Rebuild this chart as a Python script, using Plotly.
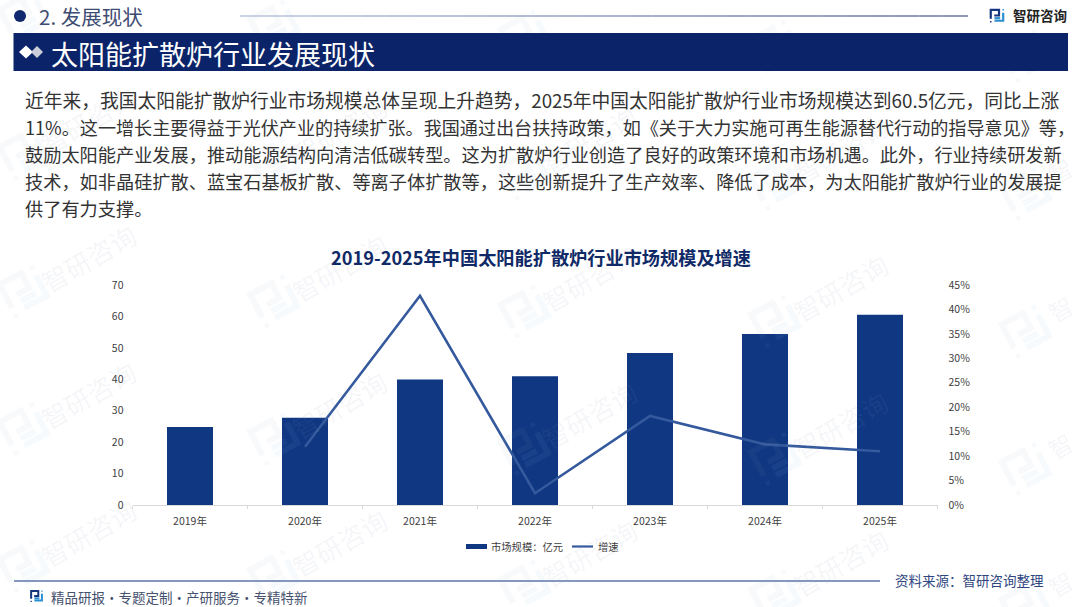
import math
import plotly.graph_objects as go

W, H = 1080, 607
CJK = "Noto Sans CJK SC"

years = ["2019年", "2020年", "2021年", "2022年", "2023年", "2024年", "2025年"]
market_size = [24.8, 27.8, 39.9, 41.0, 48.4, 54.4, 60.5]
growth_rate = [None, 0.119, 0.428, 0.024, 0.182, 0.124, 0.11]

section_label = "2. 发展现状"
banner_title = "太阳能扩散炉行业发展现状"
body_lines = [
    "近年来，我国太阳能扩散炉行业市场规模总体呈现上升趋势，2025年中国太阳能扩散炉行业市场规模达到60.5亿元，同比上涨",
    "11%。这一增长主要得益于光伏产业的持续扩张。我国通过出台扶持政策，如《关于大力实施可再生能源替代行动的指导意见》等，",
    "鼓励太阳能产业发展，推动能源结构向清洁低碳转型。这为扩散炉行业创造了良好的政策环境和市场机遇。此外，行业持续研发新",
    "技术，如非晶硅扩散、蓝宝石基板扩散、等离子体扩散等，这些创新提升了生产效率、降低了成本，为太阳能扩散炉行业的发展提",
    "供了有力支撑。",
]
chart_title = "2019-2025年中国太阳能扩散炉行业市场规模及增速"
bar_name = "市场规模：亿元"
line_name = "增速"
brand = "智研咨询"
footer_left = "精品研报·专题定制·产研服务·专精特新"
footer_right = "资料来源：智研咨询整理"

NAVY = "#0b2469"
BAR = "#0f3782"
LINE = "#34599c"


def px(x):
    return x / W


def py(y):
    return 1 - y / H


shapes, annotations = [], []


def text(x, y, s, size, color, anchor="left", bold=False, angle=0):
    annotations.append(dict(
        x=px(x), y=py(y), xref="paper", yref="paper", text=f"<b>{s}</b>" if bold else s,
        showarrow=False, xanchor=anchor, yanchor="middle", textangle=angle,
        font=dict(family=CJK, size=size, color=color), borderpad=0, align="left",
    ))


def rect(x0, y0, x1, y1, color):
    shapes.append(dict(type="rect", xref="paper", yref="paper", x0=px(x0), x1=px(x1), y0=py(y0), y1=py(y1),
                       fillcolor=color, line_width=0))


def hline(x0, x1, y, color, width=1.5):
    shapes.append(dict(type="line", xref="paper", yref="paper", x0=px(x0), x1=px(x1), y0=py(y), y1=py(y),
                       line=dict(color=color, width=width)))


def poly(points, color, closed=False, width=0, fill=None):
    d = "M" + " L".join(f"{px(a):.5f},{py(b):.5f}" for a, b in points) + (" Z" if closed else "")
    shapes.append(dict(type="path", xref="paper", yref="paper", path=d, fillcolor=fill,
                       line=dict(color=color, width=width)))


LOGO_DARK = [[(.05, .72), (.05, .12), (.6, .12), (.6, .5), (.28, .5)]]
LOGO_LIGHT = [[(.88, .32), (.88, .85), (.3, .85)], [(.3, .68), (.68, .68)]]
LOGO_DOTS = [(.05, .92, 0), (.88, .12, 1)]


def logo(cx, cy, size, dark, light, width, angle=0):
    a = math.radians(angle)

    def tr(u, v):
        dx, dy = (u - .5) * size, (v - .5) * size
        return cx + dx * math.cos(a) - dy * math.sin(a), cy + dx * math.sin(a) + dy * math.cos(a)

    for seg in LOGO_DARK:
        poly([tr(*p) for p in seg], dark, width=width)
    for seg in LOGO_LIGHT:
        poly([tr(*p) for p in seg], light, width=width)
    for u, v, k in LOGO_DOTS:
        c = light if k else dark
        d = .05
        poly([tr(u - d, v - d), tr(u + d, v - d), tr(u + d, v + d), tr(u - d, v + d)], c, closed=True, fill=c)


# watermark grid (only the wordmarks that fit wholly inside the page)
for col in range(5):
    x = 25 + col * 250.5
    for row in range(-2, 3):
        y = 290 + col * 10 + row * 137.5
        logo(x, y, 44, "rgba(150,170,195,0.07)", "rgba(150,195,225,0.08)", 6, angle=-28)
        if y - 33 > 40:
            if col < 4:
                text(x + 63, y - 33, brand, 26, "rgba(140,155,180,0.09)", anchor="center", angle=-30)
            else:
                text(x + 33, y - 22, brand[0], 24, "rgba(140,155,180,0.09)", anchor="center", angle=-30)

# header
shapes.append(dict(type="circle", xref="paper", yref="paper", x0=px(14), x1=px(26), y0=py(22), y1=py(10),
                   fillcolor="#10286e", line_width=0))
text(38, 16, section_label, 20.5, "#3d4c72")
N = 30
for i in range(N):
    t = i / (N - 1)
    shade = f"rgb({int(170 - 100 * t)},{int(182 - 100 * t)},{int(212 - 70 * t)})"
    hline(240 + i / N * 728, 240 + (i + 1) / N * 728, 16, shade, 1.2)
logo(997.5, 15.5, 15, "#16357f", "#2c8fd0", 2.2)
text(1011.5, 14.5, brand, 13.5, "#222222", bold=True)
rect(13.5, 33, 1068, 71, NAVY)
poly([(19, 52), (26, 45.5), (33, 52), (26, 58.5)], "#ffffff", closed=True, fill="#ffffff")
poly([(31, 52), (37, 46), (43, 52), (37, 58)], "#c9ced9", closed=True, fill="#c9ced9")
text(50, 53, banner_title, 27, "#ffffff")

# body
body_sizes = [18.75, 18.1, 18.2, 18.2, 18.2]
for y, line, size in zip([99.5, 127, 154, 181, 207.5], body_lines, body_sizes):
    text(24, y, line, size, "#333333")

# chart title
text(540.5, 257, chart_title, 18.2, "#0f2a66", anchor="center", bold=True)

# legend
rect(466, 544, 487, 549, BAR)
text(490, 546.5, bar_name, 10.3, "#404040")
hline(572, 593, 546.5, LINE, 2.2)
text(597, 546.5, line_name, 10.3, "#404040")

# footer
hline(14, 880, 581, "#5f76aa", 1.4)
logo(37, 596, 13, "#16357f", "#2c8fd0", 2)
text(49.5, 597, footer_left, 13.5, "#46526e")
text(894, 580, footer_right, 13.5, "#2f4680")

fig = go.Figure()
fig.add_trace(go.Bar(x=years, y=market_size, name=bar_name, marker=dict(color=BAR, line_width=0), width=0.4,
                     yaxis="y", showlegend=False))
fig.add_trace(go.Scatter(x=years, y=growth_rate, name=line_name, mode="lines", line=dict(color=LINE, width=2.6),
                         yaxis="y2", showlegend=False, connectgaps=False))

tick_font = dict(family=CJK, size=10.5, color="#404040")
fig.update_layout(
    width=W, height=H, margin=dict(l=0, r=0, t=0, b=0, pad=0, autoexpand=False), paper_bgcolor="#ffffff",
    plot_bgcolor="rgba(0,0,0,0)",
    showlegend=False, shapes=shapes, annotations=annotations,
    xaxis=dict(domain=[px(132.5), px(937.5)], type="category", tickson="boundaries", ticks="outside", ticklen=3,
               tickcolor="#d9d9d9", linecolor="#d9d9d9", linewidth=1, showline=True, showgrid=False,
               tickfont=tick_font, ticklabelstandoff=6),
    yaxis=dict(domain=[py(505), py(285)], range=[0, 70], dtick=10, showgrid=False, zeroline=False, showline=False,
               ticks="", tickfont=tick_font, ticklabelstandoff=8),
    yaxis2=dict(overlaying="y", side="right", range=[0, 0.45], dtick=0.05, tickformat=".0%", showgrid=False,
                zeroline=False, showline=False, ticks="", tickfont=tick_font, ticklabelstandoff=10, anchor="x"),
)
fig.write_html("out.html", post_script="document.body.style.margin='0';", config={"displayModeBar": False})
